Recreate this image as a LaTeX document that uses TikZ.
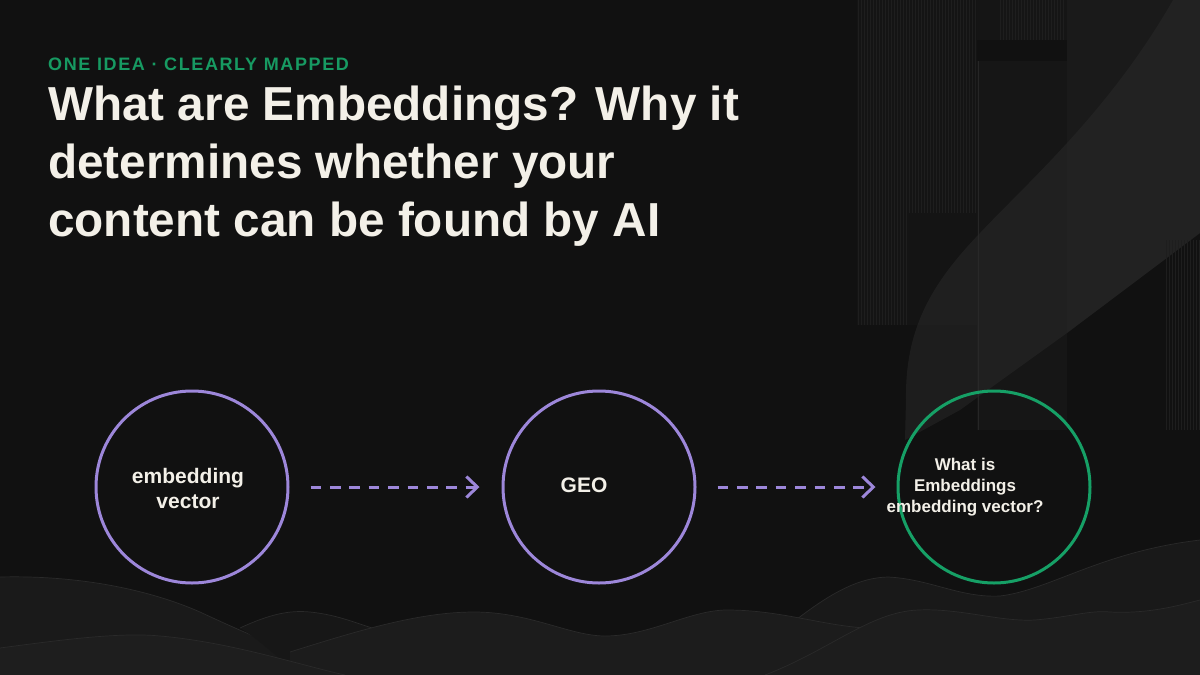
\documentclass[tikz,border=0pt]{standalone}
\usepackage{fontspec}
\setmainfont{Liberation Sans}
\newfontfamily\kickerfont[LetterSpace=9]{Liberation Sans}
\usetikzlibrary{arrows.meta}
\definecolor{bg}{HTML}{111111}
\definecolor{ink}{HTML}{F3F0E8}
\definecolor{lav}{HTML}{9D87DA}
\definecolor{grn}{HTML}{16A066}
\definecolor{kick}{HTML}{179A62}
\definecolor{stripe}{HTML}{1E1E1E}
\definecolor{wedge}{HTML}{2A2A2A}
\definecolor{g14}{HTML}{141414}
\definecolor{g15}{HTML}{151515}
\definecolor{g16}{HTML}{161616}
\definecolor{g17}{HTML}{171717}
\definecolor{g19}{HTML}{191919}
\definecolor{g1a}{HTML}{1A1A1A}
\definecolor{g1c}{HTML}{1C1C1C}
\definecolor{g1d}{HTML}{1D1D1D}
\definecolor{g1e}{HTML}{1E1E1E}
\definecolor{g26}{HTML}{262626}
\definecolor{g2a}{HTML}{2A2A2A}
\tikzset{
  titleline/.style={anchor=base west, inner sep=0, text=ink, font=\fontsize{47.7}{58}\selectfont\bfseries},
  ring/.style={circle, draw=#1, line width=3pt, fill=bg, minimum size=192pt, inner sep=0},
  ringtext/.style={text=ink, align=center, inner sep=0},
  flow/.style={draw=lav, line width=3pt, dash pattern=on 10.7pt off 8.7pt,
    -{Straight Barb[length=11pt,width=21pt]}},
  stripeline/.style={draw=stripe, line width=0.6pt},
  hill/.style={draw=wedge, line width=0.7pt},
}
\begin{document}
\begin{tikzpicture}[x=1pt,y=-1pt]
\useasboundingbox (0,0) rectangle (1200,675);
\fill[bg] (0,0) rectangle (1200,675);

% right decoration
\fill[g14] (857,0) rectangle (977,325);
\foreach \x in {858,861,...,906} \draw[stripeline] (\x,0) -- (\x,325);
\foreach \x in {909,912,...,975} \draw[stripeline] (\x,0) -- (\x,213);
\fill[g15] (977,0) rectangle (1067,40);
\foreach \x in {1000,1003,...,1065} \draw[stripeline] (\x,0) -- (\x,40);
\fill[g16] (977,61) rectangle (1067,430);
\draw[g26, line width=0.8pt] (978,61) -- (978,430);
\fill[g1a] (1067,0) -- (1200,0) -- (1200,233) -- (1067,333) -- cycle;
\fill[g2a, opacity=0.5] (1173,0) .. controls (1110,110) and (1030,180) .. (980,233)
  .. controls (930,285) and (905,330) .. (906,400) -- (905,440)
  -- (960,410) -- (1067,333) -- (1200,233) -- (1200,0) -- cycle;
\foreach \x in {1166,1169,...,1199} \draw[stripeline] (\x,240) -- (\x,430);

% bottom waves
\fill[g19] (720,675) .. controls (780,640) and (830,578) .. (888,577)
  .. controls (930,579) and (960,598) .. (1000,596) .. controls (1050,590) and (1100,552) .. (1200,540)
  -- (1200,675) -- cycle;
\draw[hill] (720,675) .. controls (780,640) and (830,578) .. (888,577)
  .. controls (930,579) and (960,598) .. (1000,596) .. controls (1050,590) and (1100,552) .. (1200,540);
\fill[g1a] (0,577) .. controls (80,575) and (150,590) .. (200,612)
  .. controls (260,640) and (320,665) .. (370,675) -- (0,675) -- cycle;
\draw[hill] (0,577) .. controls (80,575) and (150,590) .. (200,612)
  .. controls (260,640) and (320,665) .. (370,675);
\fill[g17] (240,628) .. controls (270,614) and (290,610) .. (310,612)
  .. controls (340,615) and (360,625) .. (385,632) -- (385,675) -- (300,675) .. controls (280,660) and (260,640) .. (240,628) -- cycle;
\draw[hill] (240,628) .. controls (270,614) and (290,610) .. (310,612)
  .. controls (340,615) and (360,625) .. (385,632);
\fill[g1c] (290,652) .. controls (360,630) and (420,612) .. (474,612)
  .. controls (530,612) and (570,636) .. (605,636) .. controls (650,636) and (690,610) .. (727,610)
  .. controls (780,610) and (820,625) .. (865,628) -- (865,675) -- (290,675) -- cycle;
\draw[hill] (290,652) .. controls (360,630) and (420,612) .. (474,612)
  .. controls (530,612) and (570,636) .. (605,636) .. controls (650,636) and (690,610) .. (727,610)
  .. controls (780,610) and (820,625) .. (865,628);
\fill[g1e] (0,648) .. controls (60,640) and (120,632) .. (160,636)
  .. controls (230,642) and (300,665) .. (345,675) -- (0,675) -- cycle;
\draw[hill] (0,648) .. controls (60,640) and (120,632) .. (160,636)
  .. controls (230,642) and (300,665) .. (345,675);
\fill[g1d] (765,675) .. controls (830,650) and (870,612) .. (918,610)
  .. controls (960,608) and (1000,622) .. (1035,620) .. controls (1070,617) and (1090,610) .. (1110,612)
  .. controls (1150,614) and (1180,605) .. (1200,600) -- (1200,675) -- cycle;
\draw[hill] (765,675) .. controls (830,650) and (870,612) .. (918,610)
  .. controls (960,608) and (1000,622) .. (1035,620) .. controls (1070,617) and (1090,610) .. (1110,612)
  .. controls (1150,614) and (1180,605) .. (1200,600);

% heading
\node[anchor=base west, inner sep=0, text=kick, font=\kickerfont\fontsize{18}{22}\selectfont\bfseries] (kicker) at (48,70) {ONE IDEA · CLEARLY MAPPED};
\node[titleline] (title1) at (48,120) {What are Embeddings? Why it};
\node[titleline] (title2) at (48,178) {determines whether your};
\node[titleline] (title3) at (48,236) {content can be found by AI};

% rings
\node[ring=lav] (c1) at (192,487) {};
\node[ring=lav] (c2) at (599,487) {};
\node[ring=grn, fill=none] (c3) at (994,487) {};

\node[ringtext, font=\fontsize{21}{25}\selectfont\bfseries] (t1) at (188,488) {embedding\\vector};
\node[ringtext, font=\fontsize{21}{25}\selectfont\bfseries] (t2) at (584,485) {GEO};
\node[ringtext, font=\fontsize{17}{21}\selectfont\bfseries] (t3) at (965,487) {What is\\Embeddings\\embedding vector?};

\draw[flow, shorten <=21pt, shorten >=22pt] (c1) -- (c2);
\draw[flow, shorten <=21pt, shorten >=21pt] (c2) -- (c3);
\end{tikzpicture}
\end{document}
